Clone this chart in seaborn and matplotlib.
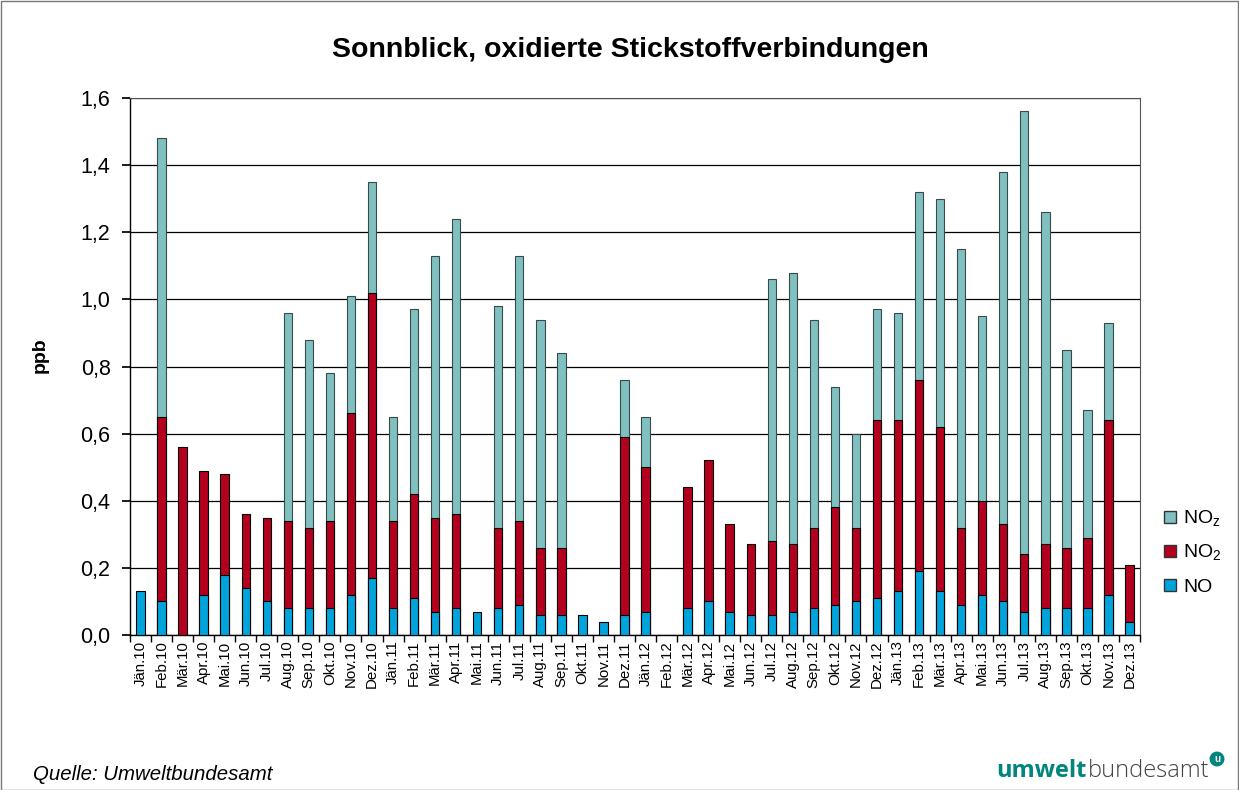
import numpy as np
import pandas as pd
import matplotlib
matplotlib.use("Agg")
import matplotlib.pyplot as plt
import seaborn as sns
from matplotlib.patches import Rectangle
from matplotlib.lines import Line2D

months = ["Jän", "Feb", "Mär", "Apr", "Mai", "Jun", "Jul", "Aug", "Sep", "Okt", "Nov", "Dez"]
years = ["10", "11", "12", "13"]
categories = [f"{m}.{y}" for y in years for m in months]

nan = np.nan
# NO (ppb)
no = [0.13, 0.10, nan, 0.12, 0.18, 0.14, 0.10, 0.08, 0.08, 0.08, 0.12, 0.17,
      0.08, 0.11, 0.07, 0.08, 0.07, 0.08, 0.09, 0.06, 0.06, 0.06, 0.04, 0.06,
      0.07, nan, 0.08, 0.10, 0.07, 0.06, 0.06, 0.07, 0.08, 0.09, 0.10, 0.11,
      0.13, 0.19, 0.13, 0.09, 0.12, 0.10, 0.07, 0.08, 0.08, 0.08, 0.12, 0.04]
# NO2 (ppb)
no2 = [nan, 0.55, 0.56, 0.37, 0.30, 0.22, 0.25, 0.26, 0.24, 0.26, 0.54, 0.85,
       0.26, 0.31, 0.28, 0.28, nan, 0.24, 0.25, 0.20, 0.20, nan, nan, 0.53,
       0.43, nan, 0.36, 0.42, 0.26, 0.21, 0.22, 0.20, 0.24, 0.29, 0.22, 0.53,
       0.51, 0.57, 0.49, 0.23, 0.28, 0.23, 0.17, 0.19, 0.18, 0.21, 0.52, 0.17]
# NOz (ppb)
noz = [nan, 0.83, nan, nan, nan, nan, nan, 0.62, 0.56, 0.44, 0.35, 0.33,
       0.31, 0.55, 0.78, 0.88, nan, 0.66, 0.79, 0.68, 0.58, nan, nan, 0.17,
       0.15, nan, nan, nan, nan, nan, 0.78, 0.81, 0.62, 0.36, 0.28, 0.33,
       0.32, 0.56, 0.68, 0.83, 0.55, 1.05, 1.32, 0.99, 0.59, 0.38, 0.29, nan]

yticks = [0.0, 0.2, 0.4, 0.6, 0.8, 1.0, 1.2, 1.4, 1.6]

no_a = np.array(no, dtype=float)
no2_a = np.array(no2, dtype=float)
noz_a = np.array(noz, dtype=float)
cum_no2 = np.where(np.isnan(no2_a), np.nan, np.nan_to_num(no_a) + no2_a)
cum_tot = np.where(np.isnan(noz_a), np.nan,
                   np.nan_to_num(no_a) + np.nan_to_num(no2_a) + noz_a)

df = pd.DataFrame({"month": categories, "NO": no_a, "NO2cum": cum_no2, "tot": cum_tot})

sns.set_theme(style="white")
plt.rcParams['font.family'] = ['Liberation Sans', 'DejaVu Sans']
plt.rcParams['text.color'] = 'black'
plt.rcParams['axes.labelcolor'] = 'black'
plt.rcParams['xtick.color'] = 'black'
plt.rcParams['ytick.color'] = 'black'

c_no = "#00A3DA"
c_no2 = "#B3001E"
c_noz = "#80C0C0"

fig = plt.figure(figsize=(12.39, 7.90), dpi=100)
W, H = 1239, 790
ax = fig.add_axes([130 / W, 1 - 635 / H, (1140 - 130) / W, (635 - 98) / H])

bw = 0.4
sns.barplot(data=df, x="month", y="tot", order=categories, color=c_noz, saturation=1,
            width=bw, edgecolor="#3a4a4a", linewidth=0.8, ax=ax, errorbar=None, zorder=3)
sns.barplot(data=df, x="month", y="NO2cum", order=categories, color=c_no2, saturation=1,
            width=bw, edgecolor="black", linewidth=0.8, ax=ax, errorbar=None, zorder=3)
sns.barplot(data=df, x="month", y="NO", order=categories, color=c_no, saturation=1,
            width=bw, edgecolor="black", linewidth=0.8, ax=ax, errorbar=None, zorder=3)

ax.set_ylim(0, 1.6)
ax.set_xlim(-0.5, len(categories) - 0.5)
ax.set_yticks(yticks)
ax.set_yticklabels([f"{v:.1f}".replace(".", ",") for v in yticks], fontsize=15.5)
ax.set_xticks(range(len(categories)))
ax.set_xticklabels(categories, rotation=90, fontsize=10.8)
ax.set_xlabel("")
ax.set_ylabel("")
ax.yaxis.grid(True, color="black", linewidth=0.9, zorder=0)
ax.set_axisbelow(True)
for s in ["left", "bottom"]:
    ax.spines[s].set_color("black")
    ax.spines[s].set_linewidth(1.0)
for s in ["top", "right"]:
    ax.spines[s].set_color("#555555")
    ax.spines[s].set_linewidth(0.8)
ax.tick_params(axis="y", length=6, color="black", direction="out", left=True, pad=8)
ax.tick_params(axis="x", length=0, pad=4)
ax.set_xticks(np.arange(-0.5, len(categories), 1.0), minor=True)
ax.tick_params(axis="x", which="minor", length=5, color="black", bottom=True)

fig.text(40 / W, 1 - 355 / H, "ppb", rotation=90, ha="center", va="center",
         fontsize=14, fontweight="bold")

fig.text(630 / W, 1 - 50 / H, "Sonnblick, oxidierte Stickstoffverbindungen",
         ha="center", va="center", fontsize=20.5, fontweight="bold")

handles = [
    Line2D([], [], marker="s", linestyle="", markersize=9, markerfacecolor=c_noz, markeredgecolor="#333333"),
    Line2D([], [], marker="s", linestyle="", markersize=9, markerfacecolor=c_no2, markeredgecolor="#333333"),
    Line2D([], [], marker="s", linestyle="", markersize=9, markerfacecolor=c_no, markeredgecolor="#333333"),
]
fig.legend(handles, ["NO$_\\mathregular{z}$", "NO$_\\mathregular{2}$", "NO"],
           loc="center left", bbox_to_anchor=(1145 / W, 1 - 552 / H), frameon=False,
           fontsize=14, handlelength=0.8, handletextpad=0.25, labelspacing=0.75)

fig.text(33 / W, 1 - 775 / H, "Quelle: Umweltbundesamt", ha="left", va="center",
         fontsize=14.7, fontstyle="italic")

# logo text
teal = "#00857F"
renderer = fig.canvas.get_renderer()
t2 = fig.text(1209 / W, 1 - 771 / H, "bundesamt", ha="right", va="center",
              fontsize=17, color="#444444", family=["Open Sans", "DejaVu Sans"], fontweight="light")
bb = t2.get_window_extent(renderer)
x_left = bb.x0 / fig.bbox.width
fig.text(x_left - 1 / W, 1 - 771 / H, "umwelt", ha="right", va="center",
         fontsize=17, color=teal, fontweight="bold", family=["Open Sans", "DejaVu Sans"])
fig.text(1217 / W, 1 - 759 / H, "u", ha="center", va="center", fontsize=7,
         color="white", fontweight="bold",
         bbox=dict(boxstyle="circle,pad=0.18", fc=teal, ec=teal))

fig.patches.append(Rectangle((0.5 / W, 0.5 / H), 1 - 1.5 / W, 1 - 1.5 / H,
                             transform=fig.transFigure, fill=False,
                             edgecolor="#777777", linewidth=1.0))

fig.savefig("out.png", dpi=100)
